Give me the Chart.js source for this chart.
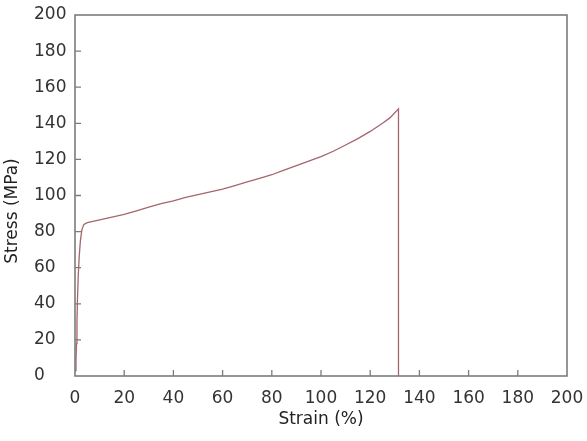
<!DOCTYPE html>
<html>
<head>
<meta charset="utf-8">
<script src="https://cdn.jsdelivr.net/npm/chart.js@4/dist/chart.umd.min.js"></script>
<style>
  html, body { margin: 0; padding: 0; background: #fff; }
  #chart { display: block; }
</style>
</head>
<body>
<canvas id="chart" width="587" height="441"></canvas>
<script>
const ctx = document.getElementById('chart').getContext('2d');

// values
const strain = [0, 0.4, 0.6, 0.8, 1.0, 1.3, 1.7, 2.2, 2.8, 3.6, 5, 10, 15, 20, 25, 30, 35, 40, 45, 50,
  55, 60, 65, 70, 75, 80, 85, 90, 95, 100, 105, 110, 115, 120, 125, 128, 131.5, 131.5];
const stress = [3, 8, 18, 30, 42, 55, 66, 75, 81, 84, 85, 86.5, 88, 89.5, 91.5, 93.5, 95.5, 97, 99, 100.5,
  102, 103.5, 105.5, 107.5, 109.5, 111.5, 114, 116.5, 119, 121.5, 124.5, 128, 131.5, 135.5, 140, 143, 148, 0];
const axisMin = 0;
const axisMax = 200;
const axisStep = 20;

const labelFont = { family: 'DejaVu Sans', size: 17, weight: 'normal' };
const axisGrey = '#7c7c7c';

// frame round the plot and small ticks pointing inward
const framePlugin = {
  id: 'frame',
  afterDraw(chart) {
    const { ctx, chartArea: a, scales } = chart;
    ctx.save();
    ctx.strokeStyle = axisGrey;
    ctx.lineWidth = 1.6;
    ctx.strokeRect(a.left, a.top, a.right - a.left, a.bottom - a.top);
    ctx.lineWidth = 1.3;
    ctx.beginPath();
    scales.x.ticks.forEach(t => {
      if (t.value <= axisMin || t.value >= axisMax) return;
      const px = scales.x.getPixelForValue(t.value);
      ctx.moveTo(px, a.bottom);
      ctx.lineTo(px, a.bottom - 6);
    });
    scales.y.ticks.forEach(t => {
      if (t.value <= axisMin || t.value >= axisMax) return;
      const py = scales.y.getPixelForValue(t.value);
      ctx.moveTo(a.left, py);
      ctx.lineTo(a.left + 6, py);
    });
    ctx.stroke();
    ctx.restore();
  }
};

new Chart(ctx, {
  type: 'line',
  data: {
    datasets: [{
      data: strain.map((s, i) => ({ x: s, y: stress[i] })),
      borderColor: '#a5656b',
      borderWidth: 1.3,
      pointRadius: 0,
      fill: false,
      tension: 0
    }]
  },
  options: {
    responsive: false,
    animation: false,
    layout: { padding: { top: 15, right: 20, bottom: 34, left: 0 } },
    plugins: {
      legend: { display: false },
      tooltip: { enabled: false },
      title: {
        display: true,
        text: 'Stress (MPa)',
        position: 'left',
        color: '#222',
        font: labelFont,
        padding: { top: 2, bottom: 11.6 }
      }
    },
    scales: {
      x: {
        type: 'linear',
        min: axisMin,
        max: axisMax,
        grid: { display: false, drawTicks: false },
        border: { display: false },
        ticks: {
          stepSize: axisStep,
          autoSkip: false,
          maxRotation: 0,
          padding: 12,
          color: '#333',
          font: labelFont
        },
        title: {
          display: true,
          text: 'Strain (%)',
          color: '#222',
          font: labelFont,
          padding: { top: 0, bottom: -23 }
        },
        afterFit(scale) {
          scale.height = 31;
          scale.paddingLeft = 0;
          scale.paddingRight = 0;
        }
      },
      y: {
        min: axisMin,
        max: axisMax,
        grid: { display: false, drawTicks: false },
        border: { display: false },
        ticks: {
          stepSize: axisStep,
          autoSkip: false,
          crossAlign: 'far',
          padding: 4,
          color: '#333',
          font: labelFont
        },
        afterFit(scale) {
          scale.width = 41;
          scale.paddingTop = 0;
          scale.paddingBottom = 0;
        }
      }
    }
  },
  plugins: [framePlugin]
});
</script>
</body>
</html>
